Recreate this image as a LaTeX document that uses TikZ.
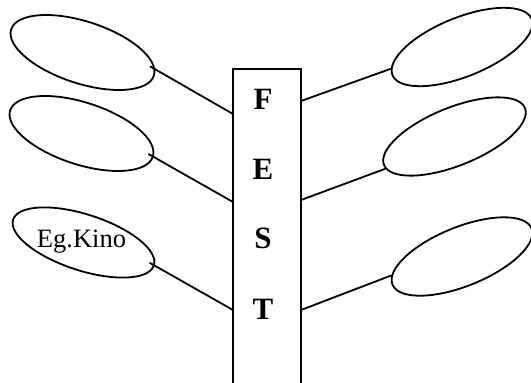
\documentclass[tikz,border=0pt]{standalone}
\usepackage{fontspec}
\setmainfont{Liberation Serif}
\usepackage{tikz}
\usetikzlibrary{positioning}
\usetikzlibrary{shapes.geometric}

\begin{document}
\begin{tikzpicture}[x=1pt, y=-1pt, line width=1.8pt,
        ovaloizq/.style={draw, ellipse, inner sep=0pt, minimum width=150pt, minimum height=62pt, rotate=-18},
        ovaloder/.style={draw, ellipse, inner sep=0pt, minimum width=150pt, minimum height=59pt, rotate=22},
        letra/.style={font=\fontsize{31}{36}\selectfont\bfseries, anchor=base},
        texto/.style={font=\fontsize{26.5}{32}\selectfont, anchor=base}]
        \useasboundingbox (0,0) rectangle (531,383);
        \clip (0,0) rectangle (531,383);

        % Columna central con las letras
        \node[draw, anchor=north, inner sep=0pt, minimum width=68pt, minimum height=340pt] (fest) at (267,68) {};
        \node[letra] (f) at (263,109) {F};
        \node[letra] (e) at (263,179) {E};
        \node[letra] (s) at (263,248.5) {S};
        \node[letra] (t) at (263,319) {T};

        % Puntos de union en la columna
        \coordinate (izq1) at (233,114);
        \coordinate (izq2) at (233,202);
        \coordinate (izq3) at (233,310);
        \coordinate (der1) at (301,101);
        \coordinate (der2) at (301,200);
        \coordinate (der3) at (301,310);

        % Ovalos de la izquierda
        \node[ovaloizq] (oi1) at (82.5,52.5) {};
        \node[ovaloizq] (oi2) at (81.5,133.5) {};
        \node[ovaloizq, minimum width=148pt, minimum height=56pt] (oi3) at (83.5,242.5) {};
        \node[texto] (kino) at (81.5,247) {Eg.Kino};

        % Ovalos de la derecha
        \node[ovaloder] (od1) at (462,47) {};
        \node[ovaloder, minimum width=152pt, minimum height=58pt] (od2) at (454.5,136.5) {};
        \node[ovaloder] (od3) at (462,256.5) {};

        % Lineas
        \draw[shorten <=-6pt] (oi1.5) -- (izq1);
        \draw[shorten <=-6pt] (oi2.east) -- (izq2);
        \draw[shorten <=-6pt] (oi3.east) -- (izq3);
        \draw (der1) -- (od1.175);
        \draw (der2) -- (od2.183);
        \draw (der3) -- (od3.173);
\end{tikzpicture}
\end{document}
